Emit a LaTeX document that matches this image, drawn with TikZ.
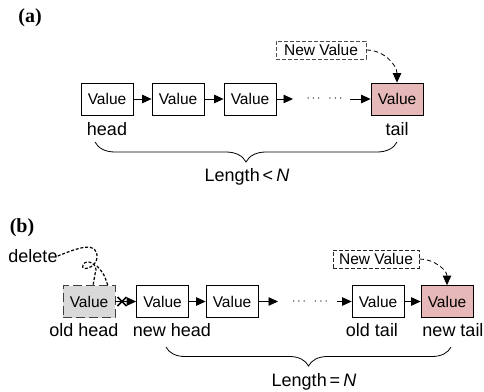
\documentclass[tikz,border=0pt]{standalone}
\usepackage{fontspec}
\setmainfont{Liberation Sans}
\newfontfamily\headfont{Liberation Serif}
\usetikzlibrary{arrows.meta,decorations.pathreplacing}
\definecolor{tailpink}{RGB}{230,184,183}
\definecolor{oldgray}{RGB}{217,217,217}
\tikzset{
  valbox/.style={draw, line width=0.8pt, minimum width=52pt, minimum height=32pt, inner sep=0pt, font=\fontsize{15.5}{18}\selectfont},
  newbox/.style={draw=black!70, dashed, dash pattern=on 4pt off 2pt, line width=0.8pt, minimum height=18pt, inner sep=1pt, font=\fontsize{15.5}{18}\selectfont},
  lab/.style={inner sep=0pt, font=\fontsize{18}{21}\selectfont},
  dotsrow/.style={inner sep=0pt, font=\fontsize{13}{15}\selectfont},
  link/.style={line width=0.8pt, -{Triangle[length=9.5pt,width=8.5pt]}},
  curl/.style={line width=0.8pt, dashed, dash pattern=on 4.5pt off 3pt, -{Triangle[length=9.5pt,width=8.5pt]}},
}
\begin{document}
\begin{tikzpicture}[x=1pt, y=-1pt]
            \useasboundingbox (0,0) rectangle (484,391);
            % (a)
            \node[inner sep=0pt, font=\headfont\bfseries\fontsize{20}{24}\selectfont] (tagA) at (30,18) {(a)};
            \node[valbox] (a1) at (107,99) {Value};
            \node[valbox] (a2) at (178,99) {Value};
            \node[valbox] (a3) at (250,99) {Value};
            \node[dotsrow] (adots) at (324.5,99) {$\cdots$\hspace{8pt}$\cdots$};
            \node[valbox, fill=tailpink] (atail) at (397,99) {Value};
            \coordinate (a3end) at (293,99);
            \coordinate (a4start) at (350,99);
            \draw[link] (a1) -- (a2);
            \draw[link] (a2) -- (a3);
            \draw[link] (a3) -- (a3end);
            \draw[link] (a4start) -- (atail);
            \node[newbox, minimum width=90pt] (anew) at (321,50) {New Value};
            \draw[curl] (anew.east) to[out=0, in=90] (atail.north);
            \node[lab] (ahead) at (107,129) {head};
            \node[lab] (atl) at (397,129) {tail};
            \coordinate (abl) at (95,142);
            \coordinate (abr) at (397,142);
            \draw[line width=0.8pt, decorate, decoration={brace, mirror, amplitude=20pt}] (abl) -- (abr);
            \node[lab] (alen) at (247,177) {Length\,<\,\textit{N}};
            % (b)
            \node[inner sep=0pt, font=\headfont\bfseries\fontsize{20}{24}\selectfont] (tagB) at (22,228) {(b)};
            \node[valbox, fill=oldgray, draw=black!75, dashed, dash pattern=on 9pt off 4pt] (bold) at (89,301.5) {Value};
            \node[valbox] (b1) at (162.5,301.5) {Value};
            \node[valbox] (b2) at (232,301.5) {Value};
            \node[dotsrow] (bdots) at (310,301.5) {$\cdots$\hspace{8pt}$\cdots$};
            \node[valbox] (boldtail) at (378,301.5) {Value};
            \node[valbox, fill=tailpink] (btail) at (447,301.5) {Value};
            \coordinate (b2end) at (278,301.5);
            \coordinate (b3start) at (337,301.5);
            \draw[link] (bold) -- (b1);
            \draw[link] (b1) -- (b2);
            \draw[link] (b2) -- (b2end);
            \draw[link] (b3start) -- (boldtail);
            \draw[link] (boldtail) -- (btail);
            \coordinate (bx) at (122,301.5);
            \draw[line width=1.6pt] ([shift={(-4.5,-4.5)}]bx) -- ([shift={(4.5,4.5)}]bx);
            \draw[line width=1.6pt] ([shift={(-4.5,4.5)}]bx) -- ([shift={(4.5,-4.5)}]bx);
            \node[newbox, draw=black!85, minimum width=86pt] (bnew) at (376,259) {New Value};
            \draw[curl] (bnew.east) to[out=0, in=90] (btail.north);
            \node[lab] (bdel) at (33,256) {delete};
            \draw[line width=1.2pt, dash pattern=on 3pt off 1.8pt]
              (bdel.east) .. controls (78,248) and (98,240) .. (97,258)
              .. controls (96,268) and (80,272) .. (83,265)
              .. controls (86,258) and (100,264) .. (95,274) -- (93,286);
            \draw[line width=1.2pt, dash pattern=on 3pt off 1.8pt] (97,266) .. controls (104,274) .. (108,286);
            \node[lab] (boh) at (84,330) {old head};
            \node[lab] (bnh) at (172,330) {new head};
            \node[lab] (bot) at (372,330) {old tail};
            \node[lab] (bnt) at (453,330) {new tail};
            \coordinate (bbl) at (166,347);
            \coordinate (bbr) at (451,347);
            \draw[line width=0.8pt, decorate, decoration={brace, mirror, amplitude=19pt}] (bbl) -- (bbr);
            \node[lab] (blen) at (314,382) {Length\,=\,\textit{N}};
\end{tikzpicture}
\end{document}
